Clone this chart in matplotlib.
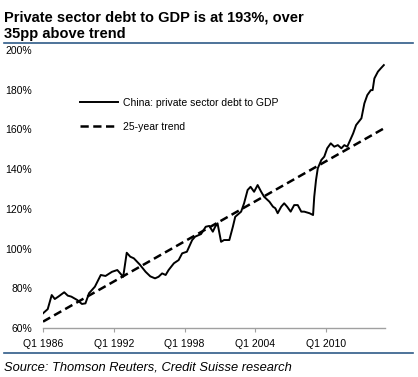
import matplotlib.pyplot as plt
from matplotlib.lines import Line2D

# China private sector debt to GDP (%)
years = [1986.0, 1986.4, 1986.74, 1987.0, 1987.3, 1987.8, 1988.1, 1988.4, 1988.9,
         1989.3, 1989.6, 1989.9, 1990.1, 1990.4, 1990.9, 1991.3, 1991.85, 1992.3,
         1992.55, 1992.8, 1993.1, 1993.4, 1993.7, 1994.2, 1994.7, 1995.1, 1995.5,
         1995.8, 1996.1, 1996.4, 1996.65, 1997.1, 1997.5, 1997.8, 1998.2, 1998.65,
         1998.9, 1999.4, 1999.8, 2000.1, 2000.4, 2000.6, 2000.8, 2001.1, 2001.35,
         2001.8, 2002.1, 2002.3, 2002.8, 2003.05, 2003.35, 2003.6, 2003.9, 2004.2,
         2004.5, 2004.75, 2005.2, 2005.5, 2005.7, 2005.9, 2006.2, 2006.45, 2006.7,
         2007.0, 2007.3, 2007.6, 2007.9, 2008.15, 2008.6, 2008.9, 2009.0, 2009.15,
         2009.3, 2009.6, 2009.85, 2010.1, 2010.4, 2010.7, 2011.0, 2011.3, 2011.55,
         2011.8, 2012.3, 2012.55, 2013.0, 2013.25, 2013.5, 2013.8, 2013.95, 2014.1,
         2014.4, 2014.65, 2014.9]
debt = [67.4, 69.5, 76.6, 74.6, 75.8, 78.0, 76.3, 75.8, 74.1,
        72.1, 72.4, 77.5, 78.8, 80.8, 86.7, 86.2, 88.3, 89.2,
        87.5, 85.8, 97.9, 95.9, 95.1, 92.0, 88.3, 86.0, 85.0,
        85.8, 87.5, 86.7, 89.2, 92.6, 94.2, 97.6, 98.4, 104.3,
        106.0, 107.3, 111.0, 111.4, 108.5, 111.0, 112.7, 103.4, 104.3,
        104.3, 111.0, 116.0, 118.6, 122.8, 129.5, 131.1, 128.6, 132.0,
        128.6, 126.1, 123.6, 121.1, 120.3, 117.8, 121.1, 122.8, 121.1,
        118.6, 121.9, 121.9, 118.6, 118.6, 117.8, 116.9, 126.1, 134.5,
        140.4, 144.6, 146.3, 150.5, 153.0, 151.3, 152.1, 150.5, 152.1,
        151.3, 158.0, 162.2, 165.6, 173.1, 177.3, 179.8, 179.8, 185.7,
        189.1, 190.8, 192.4]

trend_years = [1986.0, 2014.9]
trend = [63.2, 160.5]

xtick_years = [1986, 1992, 1998, 2004, 2010]
xtick_labels = ["Q1 1986", "Q1 1992", "Q1 1998", "Q1 2004", "Q1 2010"]
yticks = [60, 80, 100, 120, 140, 160, 180, 200]

plt.rcParams['font.family'] = ['Liberation Sans', 'DejaVu Sans']

W, H = 418, 377
fig = plt.figure(figsize=(W / 100, H / 100), dpi=100)
ax = fig.add_axes([43 / W, 1 - 328 / H, (385 - 43) / W, (328 - 50) / H])

ax.plot(years, debt, color='black', lw=1.4,
        label="China: private sector debt to GDP")
ax.plot(trend_years, trend, color='black', lw=1.8, ls=(0, (3.3, 1.8)),
        label="25-year trend")

ax.set_xlim(1986, 2015)
ax.set_ylim(60, 200)
ax.set_xticks(xtick_years)
ax.set_xticklabels(xtick_labels)
ax.set_yticks(yticks)
ax.set_yticklabels([f"{v}%" for v in yticks])

for side in ['top', 'right', 'left']:
    ax.spines[side].set_visible(False)
ax.spines['bottom'].set_color('#a0a0a0')
ax.spines['bottom'].set_linewidth(1.0)
ax.tick_params(axis='x', length=3, color='#a0a0a0', labelsize=7.5, pad=5)
ax.tick_params(axis='y', length=0, labelsize=7.5, pad=8)

ax.legend(loc='upper left', bbox_to_anchor=(80 / W, 1 - 98 / H),
          bbox_transform=fig.transFigure, frameon=False, fontsize=7.5,
          handlelength=3.6, handletextpad=0.5, labelspacing=1.35,
          borderpad=0, borderaxespad=0)

# title block
fig.text(4 / W, 1 - 22 / H, "Private sector debt to GDP is at 193%, over",
         fontsize=10.5, fontweight='bold', va='baseline')
fig.text(4 / W, 1 - 38 / H, "35pp above trend",
         fontsize=10.5, fontweight='bold', va='baseline')
fig.add_artist(Line2D([4 / W, 413 / W], [1 - 43 / H] * 2,
                      transform=fig.transFigure, color='#2f5b88', lw=1.2))
fig.add_artist(Line2D([4 / W, 413 / W], [1 - 353 / H] * 2,
                      transform=fig.transFigure, color='#2f5b88', lw=1.2))
fig.text(4 / W, 1 - 370 / H, "Source: Thomson Reuters, Credit Suisse research",
         fontsize=9.3, style='italic', va='baseline')

fig.savefig("out.png", dpi=100)
